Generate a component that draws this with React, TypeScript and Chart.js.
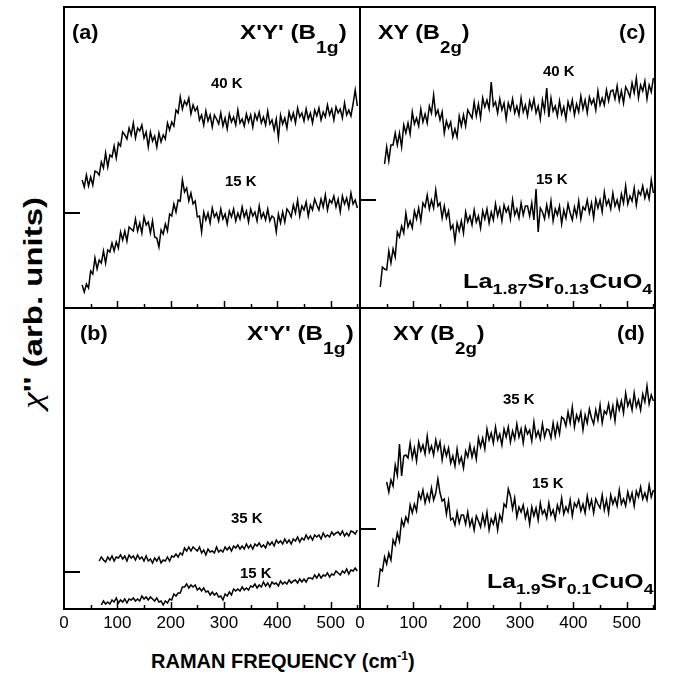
import React, { useEffect, useRef } from "react";
import { Chart, registerables } from "chart.js";

Chart.register(...registerables);

const FONT = "'Liberation Sans', Arial, Helvetica, sans-serif";
const SERIF = "'Liberation Serif', 'DejaVu Serif', serif";

// Raman shift (cm^-1)
const freq = [30, 34, 38, 42, 46, 50, 54, 58, 62, 66, 70, 74, 78, 82, 86, 90, 94, 98, 102, 106,
  110, 114, 118, 122, 126, 130, 134, 138, 142, 146, 150, 154, 158, 162, 166, 170, 174, 178, 182, 186,
  190, 194, 198, 202, 206, 210, 214, 218, 222, 226, 230, 234, 238, 242, 246, 250, 254, 258, 262, 266,
  270, 274, 278, 282, 286, 290, 294, 298, 302, 306, 310, 314, 318, 322, 326, 330, 334, 338, 342, 346,
  350, 354, 358, 362, 366, 370, 374, 378, 382, 386, 390, 394, 398, 402, 406, 410, 414, 418, 422, 426,
  430, 434, 438, 442, 446, 450, 454, 458, 462, 466, 470, 474, 478, 482, 486, 490, 494, 498, 502, 506,
  510, 514, 518, 522, 526, 530, 534, 538, 542, 546, 550];

// (a) La1.87Sr0.13CuO4, X'Y' (B1g)
const a40K = [null,
  12.8, 12.1, 13.3, 12.2, 13.1, 12.3, 13.7, 13.6, 13.3, 14.6,
  14.0, 15.5, 14.1, 15.3, 15.1, 16.2, 15.0, 16.5, 16.2, 17.6,
  17.3, 16.9, 18.0, 17.3, 18.5, 17.0, 18.0, 17.7, 18.3, 17.0,
  17.6, 16.1, 17.6, 16.7, 17.2, 16.1, 17.5, 16.6, 17.3, 16.9,
  18.5, 17.8, 18.6, 18.2, 19.8, 19.5, 21.1, 19.9, 20.7, 20.3,
  21.0, 19.4, 20.3, 19.7, 20.1, 18.8, 19.3, 18.3, 19.7, 18.7,
  19.3, 18.1, 19.3, 18.9, 18.4, 19.5, 18.2, 19.0, 17.9, 19.4,
  18.6, 19.1, 18.3, 19.8, 18.5, 18.9, 18.2, 19.4, 18.6, 19.3,
  18.1, 19.4, 18.8, 19.6, 18.5, 19.1, 18.3, 19.7, 18.4, 18.8,
  17.8, 18.9, 17.0, 19.3, 18.4, 19.0, 18.0, 19.6, 18.8, 19.5,
  18.5, 20.0, 19.1, 19.5, 18.7, 19.9, 18.9, 19.5, 18.5, 19.8,
  19.2, 20.0, 18.8, 19.6, 19.1, 20.3, 19.3, 19.9, 18.8, 20.1,
  19.5, 19.9, 19.0, 20.5, 19.3, 19.8, 19.2, 20.4, 21.8, 20.2];
const a15K = [null,
  2.3, 1.6, 2.4, 2.0, 3.7, 3.4, 5.0, 3.9, 4.8, 4.5,
  5.7, 4.5, 5.8, 5.6, 6.5, 5.7, 6.6, 6.0, 7.6, 6.8,
  7.7, 6.7, 8.1, 7.9, 7.7, 8.9, 7.7, 8.5, 7.5, 9.1,
  8.3, 8.6, 7.5, 8.7, 7.1, 7.0, 6.1, 7.8, 7.4, 8.4,
  7.7, 9.4, 9.2, 10.4, 9.6, 10.8, 10.7, 12.8, 11.6, 12.0,
  10.7, 11.5, 10.4, 10.7, 9.1, 9.2, 7.6, 9.6, 8.8, 9.5,
  8.5, 10.0, 9.1, 9.5, 8.7, 9.9, 8.9, 9.4, 8.4, 9.7,
  9.1, 9.9, 8.7, 9.5, 8.9, 10.1, 9.1, 9.7, 8.6, 9.9,
  9.2, 9.6, 8.7, 10.2, 9.0, 9.5, 8.8, 9.9, 8.7, 9.2,
  9.0, 7.6, 9.4, 8.5, 9.6, 8.6, 9.9, 9.6, 9.1, 10.3,
  9.5, 10.8, 9.2, 10.2, 9.8, 10.6, 9.2, 10.3, 9.8, 10.9,
  10.3, 9.8, 10.9, 10.1, 11.3, 9.8, 10.8, 10.5, 11.2, 10.1,
  10.9, 9.6, 11.2, 10.4, 11.0, 10.0, 11.5, 10.4, 10.8, 10.0];

// (c) La1.87Sr0.13CuO4, XY (B2g)
const c40K = [null, null, null, null,
  14.4, 16.1, 14.7, 16.3, 16.3, 17.5, 16.3,
  17.5, 16.1, 18.3, 17.5, 18.5, 17.4, 19.6, 18.4, 19.0, 18.2,
  19.9, 18.6, 19.4, 18.5, 20.2, 19.5, 21.3, 19.3, 19.8, 18.8,
  19.6, 17.5, 18.7, 18.0, 18.6, 17.1, 17.9, 17.1, 19.2, 18.2,
  19.3, 18.2, 19.8, 19.4, 19.0, 20.6, 19.2, 20.4, 19.0, 21.0,
  20.1, 20.8, 19.9, 22.6, 20.2, 20.6, 19.5, 20.9, 19.8, 20.5,
  18.9, 20.5, 19.8, 20.9, 19.5, 20.2, 19.3, 21.0, 19.6, 20.3,
  19.2, 20.7, 19.9, 20.9, 19.5, 20.2, 18.9, 20.8, 19.7, 22.0,
  19.1, 21.0, 19.7, 20.2, 19.2, 20.7, 19.4, 20.1, 18.9, 20.6,
  19.8, 20.8, 19.3, 20.4, 19.6, 21.2, 19.9, 20.8, 19.5, 21.1,
  20.4, 20.9, 19.8, 21.7, 20.3, 21.0, 20.3, 21.8, 20.7, 21.7,
  21.8, 20.9, 22.2, 20.7, 21.7, 20.5, 22.1, 21.7, 21.1, 22.5,
  21.5, 23.0, 21.0, 22.3, 21.7, 22.7, 20.9, 22.3, 21.6, 23.0];
const c15K = [null, null,
  2.1, 4.1, 3.9, 3.8, 5.7, 4.5, 5.9, 5.1, 7.6,
  7.1, 8.2, 7.5, 9.5, 8.1, 8.7, 8.0, 9.7, 8.9, 10.0,
  8.7, 10.5, 10.1, 11.3, 9.9, 10.8, 10.0, 11.8, 10.2, 10.5,
  9.0, 10.2, 9.0, 9.7, 7.9, 8.3, 6.7, 8.5, 7.7, 8.7,
  7.5, 9.6, 8.6, 9.2, 8.3, 9.8, 8.6, 9.2, 8.0, 9.7,
  8.9, 9.9, 8.5, 9.6, 8.8, 10.4, 9.2, 10.0, 8.7, 10.3,
  9.6, 10.1, 8.9, 10.8, 9.3, 9.9, 9.0, 10.5, 9.3, 10.2,
  10.2, 9.2, 10.5, 8.8, 11.9, 7.6, 10.0, 9.6, 8.9, 10.3,
  9.2, 10.7, 8.7, 9.9, 9.3, 10.2, 8.4, 9.8, 9.0, 10.4,
  9.5, 8.8, 10.1, 9.2, 10.7, 8.9, 10.1, 9.8, 10.8, 9.5,
  10.5, 9.0, 10.9, 10.0, 10.8, 9.6, 11.6, 10.3, 10.8, 9.9,
  11.5, 10.2, 10.8, 9.9, 11.4, 10.5, 12.2, 10.4, 11.2, 10.7,
  12.0, 10.3, 11.7, 11.3, 12.2, 11.0, 11.8, 10.9, 12.8, 11.5];

// (b) La1.9Sr0.1CuO4, X'Y' (B1g)
const b35K = [null, null, null, null, null, null, null, null, null,
  4.8, 5.2,
  4.9, 4.7, 5.2, 4.9, 5.3, 4.8, 5.2, 5.1, 5.4, 5.0,
  5.3, 4.8, 5.4, 5.1, 5.3, 4.9, 5.4, 5.0, 5.2, 4.8,
  5.3, 4.8, 5.0, 4.6, 5.1, 4.8, 5.2, 4.6, 4.9, 4.8,
  5.2, 4.8, 5.3, 5.2, 5.5, 5.2, 5.6, 5.4, 6.1, 5.8,
  6.2, 5.8, 6.2, 6.0, 5.8, 6.2, 5.6, 5.9, 5.4, 6.0,
  5.7, 5.8, 5.6, 6.2, 5.7, 5.9, 5.7, 6.2, 5.9, 6.2,
  5.8, 6.3, 6.1, 6.4, 6.0, 6.3, 6.0, 6.5, 6.1, 6.4,
  6.0, 6.5, 6.3, 6.6, 6.2, 6.4, 6.1, 6.7, 6.4, 6.7,
  6.3, 6.9, 6.6, 6.8, 6.5, 7.0, 6.6, 6.9, 6.5, 7.0,
  6.8, 7.2, 6.7, 7.1, 6.9, 7.4, 7.0, 7.3, 6.9, 7.4,
  7.2, 7.4, 7.0, 7.6, 7.2, 7.4, 7.2, 7.7, 7.4, 7.6,
  7.7, 7.4, 7.8, 7.3, 7.6, 7.3, 7.8, 7.7, 7.5, 7.9];
const b15K = [null, null, null, null, null, null, null, null, null, null,
  0.4,
  0.8, 0.5, 0.7, 0.5, 0.9, 0.7, 1.1, 0.6, 0.9, 0.7,
  1.0, 0.6, 1.0, 0.9, 1.1, 0.8, 1.0, 0.8, 1.3, 1.0,
  1.2, 0.9, 1.2, 1.0, 0.8, 1.1, 0.7, 0.8, 0.4, 0.8,
  0.6, 1.0, 0.9, 1.5, 1.3, 1.6, 1.6, 2.2, 2.2, 2.5,
  2.1, 2.4, 2.2, 2.4, 1.9, 2.1, 1.8, 2.1, 1.7, 1.8,
  1.4, 1.7, 1.4, 1.6, 1.2, 1.3, 0.9, 1.5, 1.3, 1.7,
  1.4, 2.0, 1.8, 2.0, 1.8, 2.2, 1.9, 2.1, 1.9, 2.3,
  2.2, 2.5, 2.1, 2.4, 2.2, 2.7, 2.3, 2.6, 2.2, 2.7,
  2.5, 2.6, 2.3, 2.8, 2.5, 2.7, 2.5, 2.9, 2.6, 2.8,
  2.9, 2.6, 3.0, 2.7, 3.0, 2.7, 3.1, 3.1, 3.0, 3.4,
  3.1, 3.5, 3.1, 3.4, 3.3, 3.6, 3.2, 3.5, 3.4, 3.8,
  3.6, 3.4, 3.8, 3.6, 4.0, 3.5, 3.9, 3.8, 4.1, 3.8];

// (d) La1.9Sr0.1CuO4, XY (B2g)
const d35K = [null, null, null, null, null,
  12.7, 11.7, 12.9, 12.3, 14.4, 13.4,
  16.5, 13.3, 15.3, 15.4, 15.1, 16.6, 15.1, 16.1, 14.8, 16.7,
  15.8, 16.4, 15.5, 17.3, 15.7, 16.3, 15.4, 16.9, 15.9, 16.7,
  14.9, 16.2, 15.3, 16.1, 14.6, 15.3, 14.3, 16.0, 14.6, 15.2,
  14.1, 15.8, 15.2, 16.4, 15.2, 16.1, 15.0, 17.1, 16.2, 17.1,
  16.0, 18.0, 16.9, 17.6, 16.6, 18.2, 16.9, 17.5, 16.4, 18.0,
  17.2, 18.2, 16.7, 17.8, 17.0, 18.5, 17.2, 18.0, 16.6, 18.2,
  17.5, 17.9, 16.8, 18.7, 17.2, 17.8, 17.0, 18.5, 17.2, 18.0,
  17.9, 17.1, 18.6, 17.3, 18.5, 17.5, 19.2, 19.0, 18.3, 19.7,
  18.6, 20.2, 18.2, 19.4, 18.8, 19.7, 17.9, 19.4, 18.6, 20.0,
  19.1, 18.5, 19.9, 18.9, 20.4, 18.6, 19.8, 19.5, 20.5, 19.2,
  20.3, 18.8, 20.8, 19.9, 20.8, 19.6, 21.6, 20.3, 20.9, 19.9,
  21.6, 20.2, 20.9, 19.9, 21.5, 20.7, 22.3, 20.5, 21.4, 20.8];
const d15K = [null,
  2.2, 4.0, 3.8, 5.2, 4.5, 5.6, 4.9, 6.9, 6.4, 7.6,
  6.8, 8.9, 8.3, 9.2, 8.7, 10.4, 9.6, 10.5, 9.8, 11.6,
  11.0, 11.9, 10.6, 11.5, 10.8, 12.1, 10.9, 11.6, 13.0, 11.6,
  10.8, 11.0, 9.5, 10.8, 8.9, 9.1, 8.4, 9.7, 8.6, 9.4,
  9.4, 8.5, 9.7, 8.3, 9.0, 7.9, 9.3, 8.8, 8.2, 9.4,
  8.4, 9.7, 7.9, 9.0, 8.5, 9.4, 7.9, 9.4, 8.8, 10.5,
  10.2, 12.0, 11.3, 10.0, 11.1, 9.2, 10.2, 9.7, 10.4, 9.1,
  9.9, 8.5, 10.2, 9.3, 10.1, 8.9, 10.6, 9.5, 9.9, 9.1,
  10.6, 9.4, 9.9, 9.0, 10.4, 9.7, 11.1, 9.5, 10.2, 9.7,
  10.9, 9.3, 10.6, 10.2, 10.9, 9.8, 10.5, 9.6, 11.3, 10.1,
  10.9, 9.6, 11.0, 10.5, 10.1, 11.4, 9.9, 10.9, 9.6, 11.4,
  10.5, 11.1, 10.3, 11.9, 10.5, 11.0, 10.3, 11.7, 10.8, 11.6,
  10.3, 11.8, 11.2, 12.2, 11.0, 11.6, 10.9, 12.4, 11.2, 11.9];

// zero reference tick of each panel (arb. units), order a, c, b, d
const zeroTicks = [9.5, 10.85, 3.75, 8.0];
const xTickLabels = [0, 100, 200, 300, 400, 500];
const yMax = 30.1;

const PAD = 12;
const XAXIS_H = 40;

const framePlugin = {
  id: "frame",
  afterDatasetsDraw(chart: any, _args: any, opts: any) {
    const { ctx, chartArea, scales } = chart;
    const { left, top, right, bottom } = chartArea;
    ctx.save();
    ctx.strokeStyle = "#000";
    ctx.lineWidth = 2;
    ctx.strokeRect(left, top, right - left, bottom - top);
    ctx.lineWidth = 1.5;
    for (let v = 50; v < opts.xMax; v += 50) {
      const px = Math.round(scales.x.getPixelForValue(v)) + 0.5;
      const len = v % 100 === 0 ? 7 : 4;
      ctx.beginPath();
      ctx.moveTo(px, bottom);
      ctx.lineTo(px, bottom - len);
      ctx.stroke();
    }
    ctx.lineWidth = 2;
    const py = Math.round(scales.y.getPixelForValue(opts.zero));
    ctx.beginPath();
    ctx.moveTo(left, py);
    ctx.lineTo(left + 16, py);
    ctx.stroke();
    ctx.restore();
  },
};

type PanelProps = {
  left: number;
  top: number;
  width: number;
  height: number;
  xMax: number;
  showTicks: boolean;
  series: (number | null)[][];
  zero: number;
};

function Panel({ left, top, width, height, xMax, showTicks, series, zero }: PanelProps) {
  const ref = useRef<HTMLCanvasElement>(null);
  const cw = width + 2 * PAD;
  const ch = PAD + height + (showTicks ? XAXIS_H : PAD);
  useEffect(() => {
    if (!ref.current) return;
    const chart = new Chart(ref.current, {
      type: "line",
      data: {
        datasets: series.map((s) => ({
          data: freq
            .map((x, i) => ({ x, y: s[i] }))
            .filter((p) => p.y !== null && p.y !== undefined) as any,
          borderColor: "#000",
          borderWidth: 1.5,
          pointRadius: 0,
          fill: false,
          tension: 0,
        })),
      },
      options: {
        animation: false,
        responsive: false,
        devicePixelRatio: 1,
        layout: { padding: { left: PAD, right: PAD, top: PAD, bottom: showTicks ? 0 : PAD } },
        plugins: {
          legend: { display: false },
          tooltip: { enabled: false },
          frame: { zero, xMax },
        } as any,
        scales: {
          x: {
            type: "linear",
            min: 0,
            max: xMax,
            display: showTicks,
            grid: { display: false, drawTicks: false },
            border: { display: false },
            ticks: {
              stepSize: 100,
              includeBounds: false,
              autoSkip: false,
              maxRotation: 0,
              padding: 4,
              color: "#000",
              font: { size: 17, family: FONT },
              callback: (v: any) => (xTickLabels.includes(Number(v)) ? String(v) : ""),
            },
            afterFit: (s: any) => {
              if (showTicks) s.height = XAXIS_H;
            },
          },
          y: { type: "linear", min: 0, max: yMax, display: false },
        },
      },
      plugins: [framePlugin],
    });
    return () => chart.destroy();
  }, []);
  return (
    <canvas
      ref={ref}
      width={cw}
      height={ch}
      style={{ position: "absolute", left: left - PAD, top: top - PAD, width: cw, height: ch }}
    />
  );
}

type TxtProps = { left: number; top: number; size: number; scale?: number; weight?: string; children: any };
const Txt = ({ left, top, size, scale = 1, weight = "bold", children }: TxtProps) => (
  <div
    style={{
      position: "absolute",
      left,
      top,
      fontSize: size,
      fontWeight: weight as any,
      fontFamily: FONT,
      lineHeight: 1,
      whiteSpace: "nowrap",
      color: "#000",
      transform: `scaleX(${scale})`,
      transformOrigin: "left top",
    }}
  >
    {children}
  </div>
);
const Sub = ({ size, drop, children }: { size: number; drop: number; children: any }) => (
  <span style={{ fontSize: size, verticalAlign: `${-drop}px`, lineHeight: 1 }}>{children}</span>
);

export default function App() {
  return (
    <div style={{ position: "fixed", left: 0, top: 0, width: 673, height: 680, background: "#fff" }}>
      <Panel left={64} top={7} width={296} height={301} xMax={555} showTicks={false} series={[a40K, a15K]} zero={zeroTicks[0]} />
      <Panel left={360} top={7} width={295} height={301} xMax={553} showTicks={false} series={[c40K, c15K]} zero={zeroTicks[1]} />
      <Panel left={64} top={308} width={296} height={301} xMax={555} showTicks={true} series={[b35K, b15K]} zero={zeroTicks[2]} />
      <Panel left={360} top={308} width={295} height={301} xMax={553} showTicks={true} series={[d35K, d15K]} zero={zeroTicks[3]} />

      {/* panel letters */}
      <Txt left={72} top={22} size={20} scale={1.08}>(a)</Txt>
      <Txt left={619} top={22} size={20} scale={1.08}>(c)</Txt>
      <Txt left={80} top={323} size={20} scale={1.08}>(b)</Txt>
      <Txt left={617} top={323} size={20} scale={1.08}>(d)</Txt>

      {/* polarization headers */}
      <Txt left={240} top={22} size={20} scale={1.21}>
        X'Y' (B<Sub size={16} drop={14}>1g</Sub>)
      </Txt>
      <Txt left={378} top={22} size={20} scale={1.17}>
        XY (B<Sub size={16} drop={14}>2g</Sub>)
      </Txt>
      <Txt left={247} top={323} size={20} scale={1.21}>
        X'Y' (B<Sub size={16} drop={14}>1g</Sub>)
      </Txt>
      <Txt left={393} top={323} size={20} scale={1.17}>
        XY (B<Sub size={16} drop={14}>2g</Sub>)
      </Txt>

      {/* temperatures */}
      <Txt left={211} top={75} size={15}>40 K</Txt>
      <Txt left={225} top={173} size={15}>15 K</Txt>
      <Txt left={543} top={63} size={15}>40 K</Txt>
      <Txt left={536} top={171} size={15}>15 K</Txt>
      <Txt left={231} top={510} size={15}>35 K</Txt>
      <Txt left={240} top={565} size={15}>15 K</Txt>
      <Txt left={503} top={391} size={15}>35 K</Txt>
      <Txt left={532} top={475} size={15}>15 K</Txt>

      {/* compositions */}
      <Txt left={463} top={270} size={21} scale={1.2}>
        La<Sub size={15} drop={6}>1.87</Sub>Sr<Sub size={15} drop={6}>0.13</Sub>CuO<Sub size={15} drop={6}>4</Sub>
      </Txt>
      <Txt left={487} top={570} size={21} scale={1.18}>
        La<Sub size={15} drop={6}>1.9</Sub>Sr<Sub size={15} drop={6}>0.1</Sub>CuO<Sub size={15} drop={6}>4</Sub>
      </Txt>

      {/* axis titles */}
      <Txt left={151} top={650} size={20}>
        RAMAN FREQUENCY (cm<span style={{ fontSize: 12, verticalAlign: "8px" }}>-1</span>)
      </Txt>
      <div
        style={{
          position: "absolute",
          left: 32,
          top: 303,
          fontSize: 26,
          fontWeight: "bold",
          fontFamily: FONT,
          lineHeight: 1,
          whiteSpace: "nowrap",
          color: "#000",
          transform: "translate(-50%, -50%) rotate(-90deg) scaleX(1.27)",
        }}
      >
        <span style={{ fontFamily: SERIF, fontStyle: "italic", fontWeight: "normal", fontSize: 30 }}>χ</span>'' (arb. units)
      </div>
    </div>
  );
}
